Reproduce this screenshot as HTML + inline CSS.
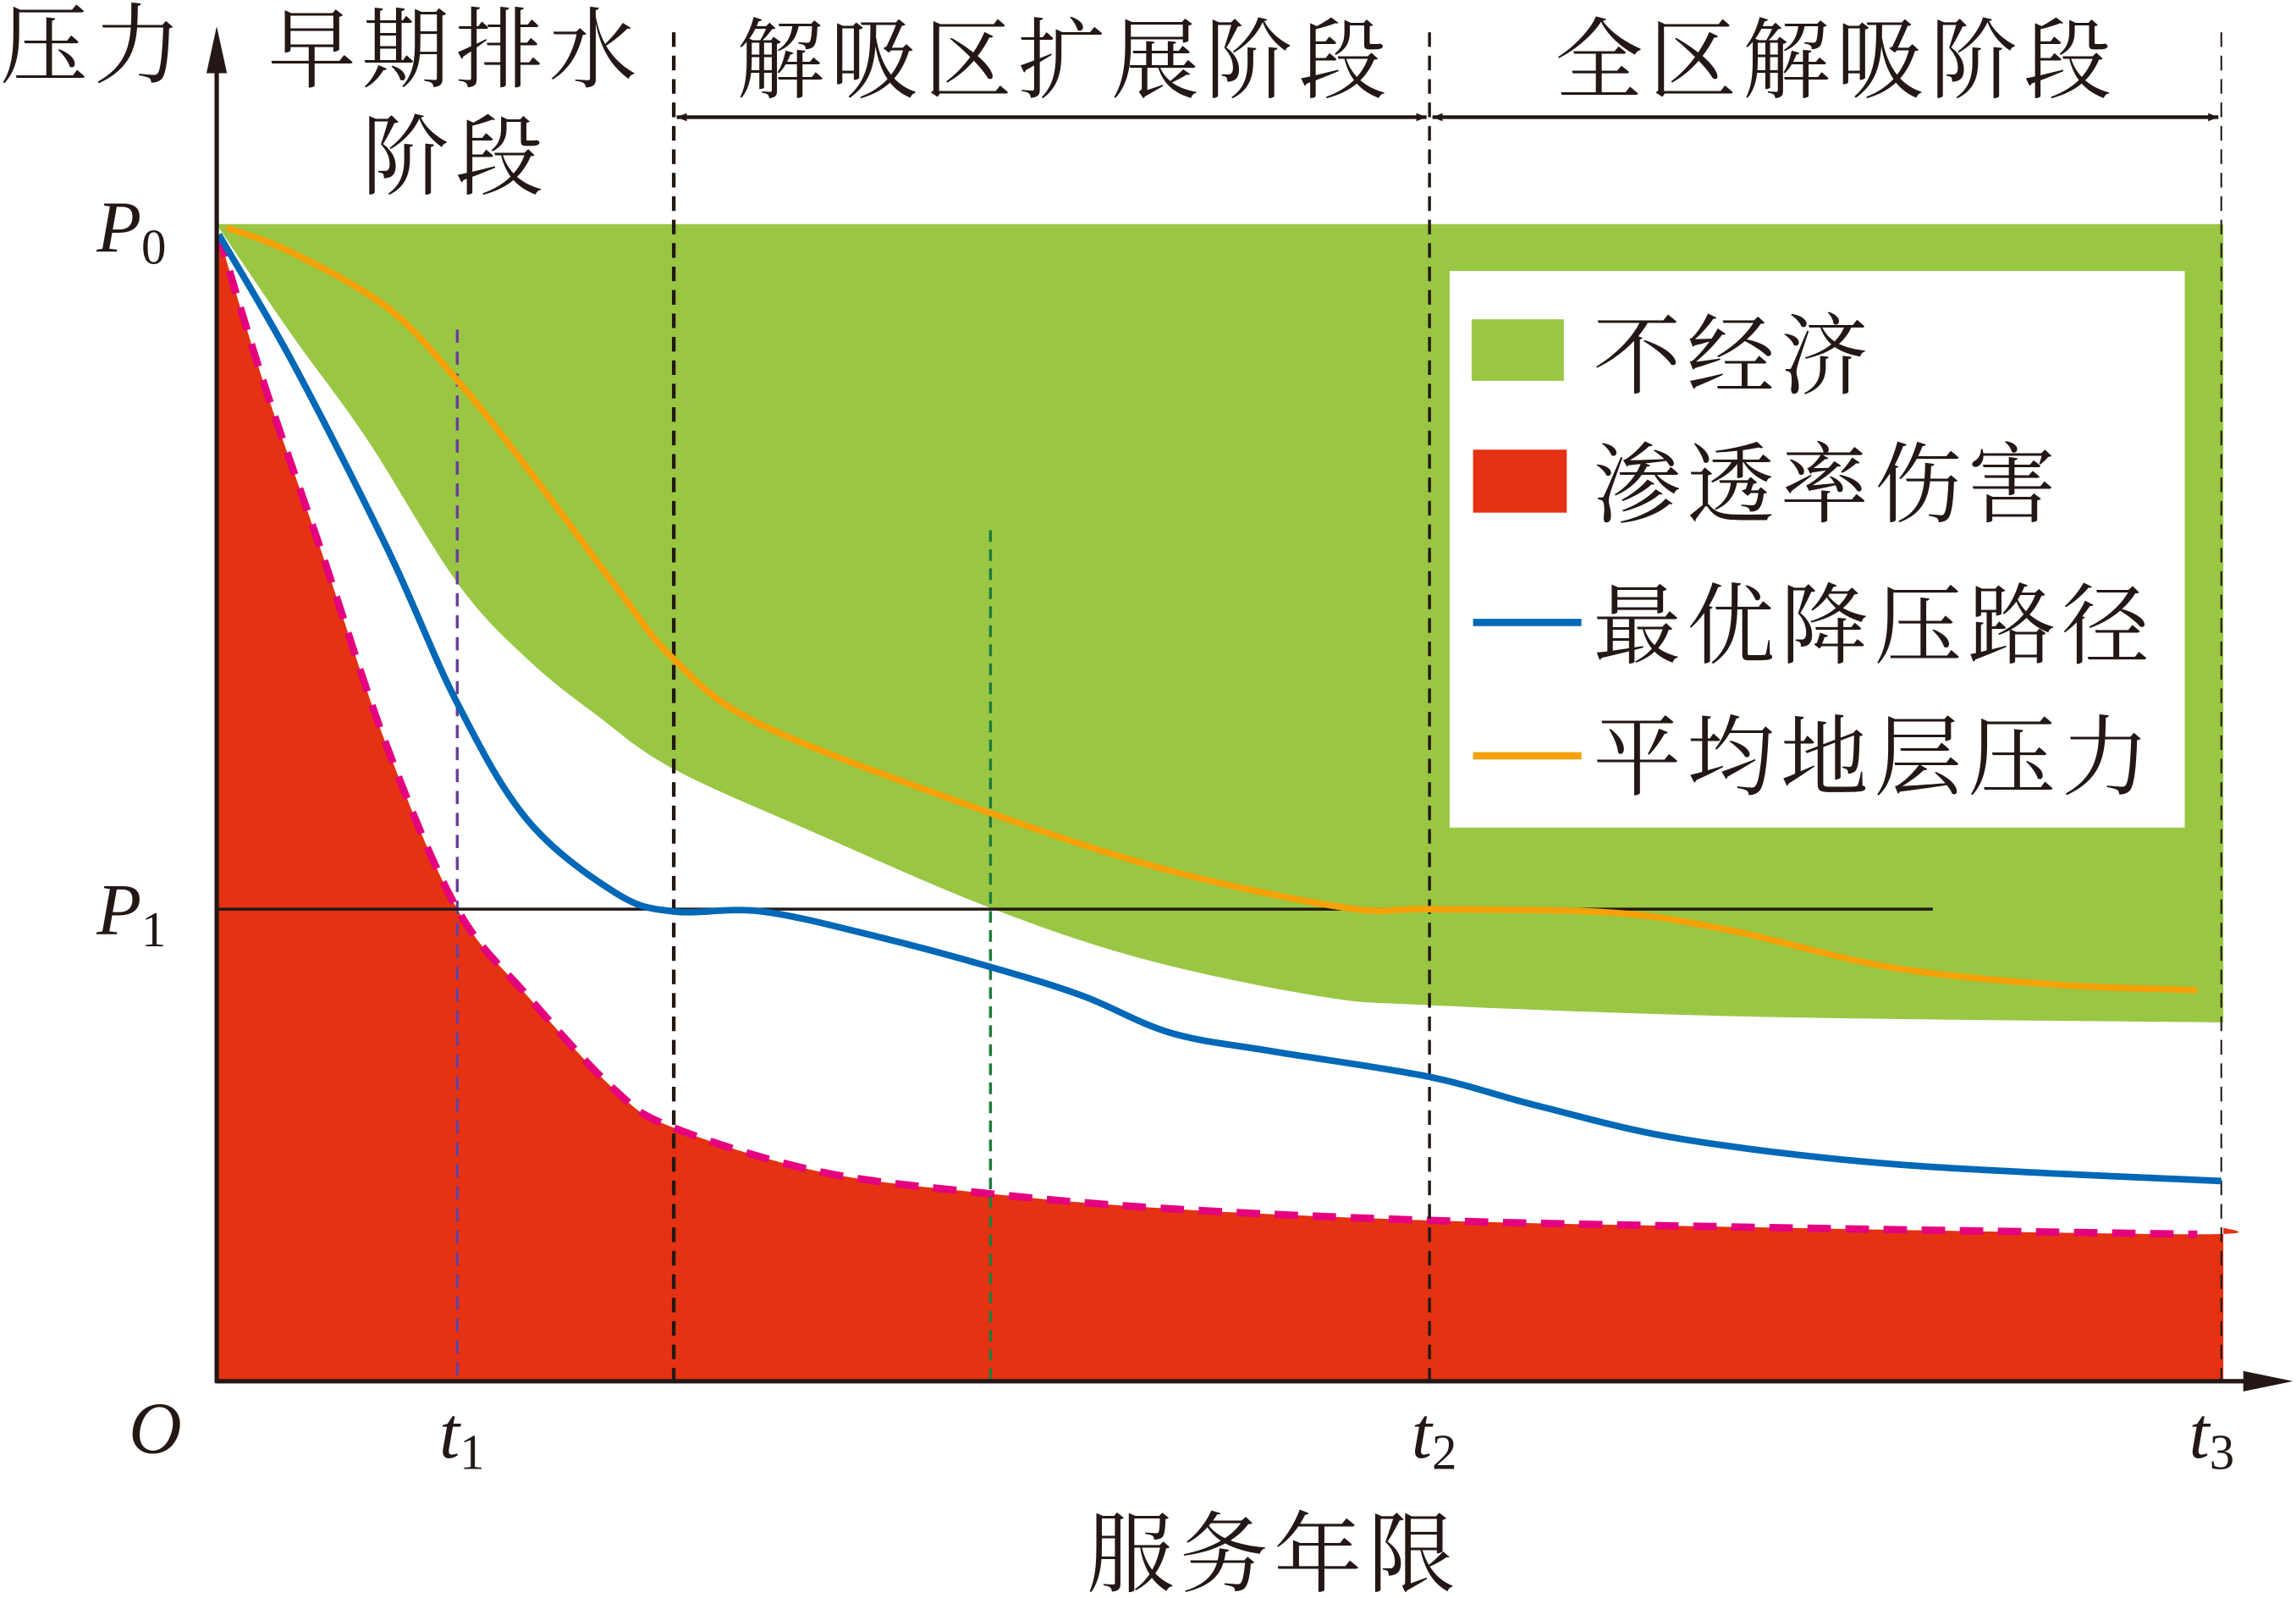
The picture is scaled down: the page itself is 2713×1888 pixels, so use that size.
<!DOCTYPE html>
<html><head><meta charset="utf-8">
<style>
html,body{margin:0;padding:0;background:#fff;width:2713px;height:1888px;overflow:hidden}
svg{display:block}
.cn{font-family:"Liberation Serif","Noto Serif CJK SC","Noto Sans CJK SC",serif;fill:#231815;letter-spacing:4px}
.it{font-family:"Liberation Serif",serif;font-style:italic;fill:#231815}
.sub{font-family:"Liberation Serif",serif;font-style:normal;fill:#231815}
</style></head>
<body>
<svg id="chart" width="2713" height="1888" viewBox="0 0 1568 1091" preserveAspectRatio="none" xmlns="http://www.w3.org/2000/svg">
<defs>
<marker id="ah" viewBox="0 0 10 10" refX="10" refY="5" markerWidth="7" markerHeight="7" markerUnits="userSpaceOnUse" orient="auto-start-reverse"><path d="M0,1 L10,5 L0,9 z" fill="#231815"/></marker>
</defs>
<g id="regions"></g>
<g id="guides"></g>
<g id="series"></g>
<g id="axes">
<line x1="148" y1="944" x2="148" y2="40" stroke="#231815" stroke-width="3"/>
<path d="M148,18 L141,50 L155,50 z" fill="#231815"/>
<line x1="147" y1="943" x2="1540" y2="943" stroke="#231815" stroke-width="3"/>
<path d="M1566,943 L1532,936 L1532,950 z" fill="#231815"/>
</g>
<g id="labels">
<text class="cn" x="0" y="52" font-size="60">压力</text>
<text class="cn" x="183" y="55" font-size="60">早期排水</text>
<text class="cn" x="247" y="128" font-size="60">阶段</text>
<text class="cn" x="503" y="62" font-size="60">解吸区扩展阶段</text>
<text class="cn" x="1062" y="62" font-size="60">全区解吸阶段</text>
<text class="cn" x="742" y="1082" font-size="60">服务年限</text>
<text class="it" x="66" y="172" font-size="50">P<tspan class="sub" font-size="34" dy="8">0</tspan></text>
<text class="it" x="66" y="638" font-size="50">P<tspan class="sub" font-size="34" dy="8">1</tspan></text>
<text class="it" x="88" y="992" font-size="50">O</text>
<text class="it" x="300" y="995" font-size="50">t<tspan class="sub" font-size="34" dy="8">1</tspan></text>
<text class="it" x="964" y="995" font-size="50">t<tspan class="sub" font-size="34" dy="8">2</tspan></text>
<text class="it" x="1495" y="995" font-size="50">t<tspan class="sub" font-size="34" dy="8">3</tspan></text>
</g>
<g id="legend">
<rect x="990" y="185" width="502" height="380" fill="#fff"/>
<rect x="1005" y="218" width="63" height="42" fill="#99c744"/>
<text class="cn" x="1088" y="264" font-size="60">不经济</text>
<rect x="1006" y="307" width="64" height="43" fill="#e53212"/>
<text class="cn" x="1088" y="352" font-size="60">渗透率伤害</text>
<line x1="1006" y1="425" x2="1080" y2="425" stroke="#0068b6" stroke-width="5"/>
<text class="cn" x="1088" y="448" font-size="60">最优降压路径</text>
<line x1="1006" y1="516" x2="1080" y2="516" stroke="#f4a10a" stroke-width="5"/>
<text class="cn" x="1088" y="538" font-size="60">平均地层压力</text>
</g>
</svg>
<script>
// data: time fraction (t3 = 1), pressure fraction (P0 = 1)
const greenT = [0.001,0.038,0.075,0.12,0.155,0.19,0.228,0.301,0.386,0.462,0.549,0.605,0.768,1.001];
const greenP = [0.997,0.903,0.814,0.69,0.624,0.575,0.529,0.472,0.409,0.365,0.333,0.325,0.315,0.31];
const redT = [0.001,0.023,0.053,0.085,0.12,0.155,0.199,0.228,0.301,0.386,0.476,0.605,0.768,0.988,1.001];
const redP = [0.991,0.865,0.713,0.548,0.408,0.333,0.251,0.219,0.181,0.162,0.149,0.139,0.133,0.127,0.133];
const blueT = [0.001,0.038,0.085,0.12,0.155,0.199,0.228,0.272,0.33,0.386,0.432,0.476,0.527,0.605,0.659,0.732,0.841,1];
const blueP = [0.991,0.88,0.72,0.586,0.485,0.422,0.406,0.406,0.384,0.358,0.333,0.301,0.285,0.263,0.238,0.209,0.187,0.173];
const orangeT = [0.005,0.038,0.085,0.12,0.155,0.199,0.228,0.272,0.386,0.476,0.564,0.605,0.695,0.754,0.834,0.915,0.988];
const orangeP = [0.997,0.975,0.928,0.865,0.789,0.687,0.624,0.567,0.491,0.441,0.409,0.408,0.405,0.39,0.358,0.343,0.338];
const p1Level = 0.408;
const markT = [0.12,0.228,0.386,0.605,1];

const X0=148, X1=1517, Y0=943, Y1=153;
const sx = t => X0 + t*(X1-X0);
const sy = p => Y0 - p*(Y0-Y1);
const NS='http://www.w3.org/2000/svg';
function smooth(pts){
  let d='M'+pts[0][0].toFixed(1)+','+pts[0][1].toFixed(1);
  for(let i=0;i<pts.length-1;i++){
    const p0=pts[Math.max(0,i-1)],p1=pts[i],p2=pts[i+1],p3=pts[Math.min(pts.length-1,i+2)];
    const c1=[p1[0]+(p2[0]-p0[0])/6,p1[1]+(p2[1]-p0[1])/6];
    const c2=[p2[0]-(p3[0]-p1[0])/6,p2[1]-(p3[1]-p1[1])/6];
    d+=' C'+c1.join(',')+' '+c2.join(',')+' '+p2.join(',');
  }
  return d;
}
const pts=(T,P)=>T.map((t,i)=>[sx(t),sy(P[i])]);
const regions=document.getElementById('regions');
const guides=document.getElementById('guides');
const series=document.getElementById('series');

const gp=pts(greenT,greenP);
const g=document.createElementNS(NS,'path');
g.setAttribute('d','M'+sx(0.001)+','+sy(1)+' L'+sx(1.001)+','+sy(1)+' L'+gp[gp.length-1].join(',')+' '+smooth(gp.slice().reverse()).replace(/^M[^ ]+/,'L'+gp[gp.length-1].join(','))+' Z');
g.setAttribute('fill','#99c744');


regions.appendChild(g);

const rp=pts(redT,redP);
const r=document.createElementNS(NS,'path');
r.setAttribute('d',smooth(rp)+' L'+sx(1.001)+','+sy(0)+' L'+sx(0.001)+','+sy(0)+' Z');
r.setAttribute('fill','#e53212');


regions.appendChild(r);

const pk=document.createElementNS(NS,'path');
pk.setAttribute('d',smooth(rp.slice(0,rp.length-1)));
pk.setAttribute('fill','none');pk.setAttribute('stroke','#e4007f');pk.setAttribute('stroke-width','5');pk.setAttribute('stroke-dasharray','16 10');


regions.appendChild(pk);

function vline(x,y1,y2,color,w,dash,name){
  const l=document.createElementNS(NS,'line');
  l.setAttribute('x1',x);l.setAttribute('x2',x);l.setAttribute('y1',y1);l.setAttribute('y2',y2);
  l.setAttribute('stroke',color);l.setAttribute('stroke-width',w);l.setAttribute('stroke-dasharray',dash);
  
  
  guides.appendChild(l);
}
vline(sx(markT[0]),225,943,'#6a3f98',2,'9 6','t1-guide');
vline(sx(markT[1]),22,943,'#231815',2.5,'10 6','stage-boundary-1');
vline(sx(markT[2]),362,943,'#1f7a3a',2,'8 5','mid-guide');
vline(sx(markT[3]),22,943,'#231815',2,'10 6','stage-boundary-2');
vline(sx(markT[4]),22,943,'#231815',1.2,'10 6','stage-boundary-3');

function arrow(x1,x2,name){
  const l=document.createElementNS(NS,'line');
  l.setAttribute('x1',x1+2);l.setAttribute('x2',x2-2);l.setAttribute('y1',80);l.setAttribute('y2',80);
  l.setAttribute('stroke','#231815');l.setAttribute('stroke-width','2.5');
  l.setAttribute('marker-start','url(#ah)');l.setAttribute('marker-end','url(#ah)');
  
  
  guides.appendChild(l);
}
arrow(sx(markT[1]),sx(markT[3]),'stage-arrow-expansion');
arrow(sx(markT[3]),sx(markT[4]),'stage-arrow-full');

const pl=document.createElementNS(NS,'line');
pl.setAttribute('x1',148);pl.setAttribute('x2',1320);pl.setAttribute('y1',sy(p1Level));pl.setAttribute('y2',sy(p1Level));
pl.setAttribute('stroke','#231815');pl.setAttribute('stroke-width','2');


series.appendChild(pl);

function line(T,P,color,name){
  const p=document.createElementNS(NS,'path');
  p.setAttribute('d',smooth(pts(T,P)));
  p.setAttribute('fill','none');p.setAttribute('stroke',color);p.setAttribute('stroke-width','4.5');
  
  
  series.appendChild(p);
}
line(orangeT,orangeP,'#f4a10a','average-pressure-line');
line(blueT,blueP,'#0068b6','optimal-path-line');
</script>
</body></html>
